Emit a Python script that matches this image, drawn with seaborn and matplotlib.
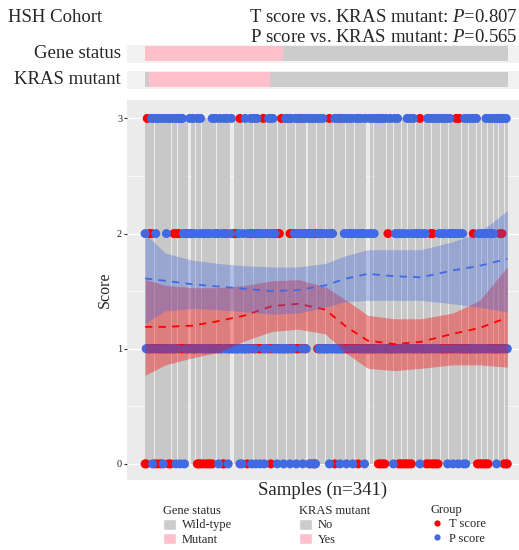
import numpy as np
import pandas as pd
import matplotlib.pyplot as plt
import seaborn as sns
from matplotlib.patches import Patch
from matplotlib.lines import Line2D

# ---- data ----
n_samples = 341

# per-sample scores (samples 1..341), blocks of ten
t_scores_str = """
0031212110 1101101111 1101011211 2121111121 1112111110 0101011010 1010111211
1110012111 1112121113 1111110112 1211121111 1311211101 1211212131 1113112112
2111121312 1122202202 2211121111 1113121101 1111311111 1112111111 0111211111
1111111110 1010101121 1111111101 0101010101 0111121131 1111010120 2010101111
1111112111 1131131111 1111111121 1101010101 0101121111 1112121010 0
"""
p_scores_str = """
2111113031 2313113013 2131311310 3130332012 1231231213 1231212112 1213123120
3121321301 2311111120 1021312113 0231032202 2101213232 3121011111 0131130311
2302323102 3123023230 0321312312 1120112131 1310131230 2312302132 3123120312
1321321313 1313113111 3110321321 2112113213 1231211201 2112131311 3131132132
3213023120 2121021120 3013131131 1312112121 3213213213 0313131313 1
"""
t_scores = [int(c) for c in t_scores_str if c.isdigit()]
p_scores = [int(c) for c in p_scores_str if c.isdigit()]

# samples without a background column
bar_gaps = [10, 26, 31, 42, 43, 44, 48, 54, 68, 81, 82, 83, 84, 93, 103, 115,
            125, 134, 142, 153, 162, 170, 178, 189, 198, 209, 210, 211, 212,
            215, 228, 234, 242, 247, 255, 262, 270, 278, 286, 298, 305, 312,
            317, 322, 328, 333, 338]

# annotation rows as runs
gene_runs = [("Mutant", 130), ("Wild-type", 211)]
kras_runs = [("No", 4), ("Yes", 114), ("No", 223)]

# smoothed trends (loess) read at these samples
knots = [1, 20, 45, 70, 95, 120, 145, 170, 190, 210, 235, 260, 290, 315, 341]
t_fit = [1.19, 1.19, 1.20, 1.24, 1.29, 1.37, 1.39, 1.34, 1.19, 1.07, 1.04, 1.06, 1.13, 1.18, 1.27]
t_low = [0.77, 0.86, 0.92, 0.97, 1.07, 1.15, 1.17, 1.13, 0.96, 0.83, 0.81, 0.83, 0.86, 0.86, 0.84]
t_high = [1.60, 1.55, 1.53, 1.53, 1.55, 1.59, 1.60, 1.54, 1.42, 1.29, 1.26, 1.26, 1.31, 1.42, 1.71]
p_fit = [1.61, 1.59, 1.56, 1.54, 1.52, 1.50, 1.51, 1.55, 1.61, 1.65, 1.63, 1.62, 1.68, 1.72, 1.78]
p_low = [1.22, 1.33, 1.35, 1.34, 1.32, 1.30, 1.31, 1.36, 1.41, 1.42, 1.42, 1.42, 1.39, 1.36, 1.32]
p_high = [2.00, 1.83, 1.77, 1.74, 1.72, 1.71, 1.71, 1.74, 1.81, 1.86, 1.86, 1.86, 1.93, 2.01, 2.20]

# ---- style ----
sns.set_theme(style="darkgrid", rc={"axes.facecolor": "#EBEBEB", "grid.color": "white"})
plt.rcParams["font.family"] = ["Liberation Serif", "DejaVu Serif"]
plt.rcParams["mathtext.fontset"] = "custom"
plt.rcParams["mathtext.rm"] = "Liberation Serif"
plt.rcParams["mathtext.it"] = "Liberation Serif:italic"

W, H = 519, 550
fig = plt.figure(figsize=(W / 100, H / 100), dpi=100)
fig.patch.set_facecolor("white")

grey = "#CCCCCC"
pink = "#FFC0CB"
red = "#FF0000"
blue = "#4169E1"

samples = np.arange(1, n_samples + 1)
xlim = (-16, 352)

# main panel
ax = fig.add_axes([127 / W, 1 - 480 / H, 392 / W, 380 / H])
bar_x = [s for s in samples if s not in bar_gaps]
ax.bar(bar_x, 3, width=1.0, color="#C8C8C8", linewidth=0, zorder=1)

# long format: all T scores first, P scores drawn on top
df = pd.DataFrame({
    "Sample": np.concatenate([samples, samples]),
    "Group": ["T score"] * n_samples + ["P score"] * n_samples,
    "Score": t_scores + p_scores,
})
sns.scatterplot(data=df, x="Sample", y="Score", hue="Group",
                palette={"T score": red, "P score": blue}, s=42,
                linewidth=0, legend=False, ax=ax, zorder=3)

ax.fill_between(knots, t_low, t_high, color=red, alpha=0.37, linewidth=0, zorder=4)
sns.lineplot(x=knots, y=t_fit, color=red, lw=1.3, ax=ax, zorder=5)
ax.lines[-1].set_dashes((4, 3.5))
ax.fill_between(knots, p_low, p_high, color=blue, alpha=0.35, linewidth=0, zorder=6)
sns.lineplot(x=knots, y=p_fit, color=blue, lw=1.3, ax=ax, zorder=7)
ax.lines[-1].set_dashes((4, 3.5))

ax.set_xlim(*xlim)
ax.set_ylim(-0.14, 3.16)
ax.set_xticks([])
ax.set_yticks([0, 1, 2, 3])
ax.set_yticks([0.5, 1.5, 2.5], minor=True)
ax.grid(True, which="major", axis="y", color="white", lw=1.0)
ax.grid(True, which="minor", axis="y", color="white", lw=0.5)
ax.grid(False, axis="x")
ax.tick_params(axis="y", which="major", length=2.5, width=0.8, color="#333333",
               labelsize=7.5, labelcolor="#222222", pad=1, left=True)
ax.tick_params(axis="y", which="minor", length=0)
for sp in ax.spines.values():
    sp.set_visible(False)
ax.set_ylabel("Score", fontsize=11.5, labelpad=3)
ax.set_xlabel("Samples (n=341)", fontsize=13.5, labelpad=1)

# annotation rows
def annot_row(y_top, runs, colors, label):
    a = fig.add_axes([127 / W, 1 - (y_top + 18) / H, 392 / W, 18 / H])
    a.set_facecolor("#F2F2F2")
    cols = []
    for name, n in runs:
        cols += [colors[name]] * n
    a.bar(samples, 0.84, bottom=0.1, width=1.0, color=cols, linewidth=0,
          antialiased=False)
    a.set_xlim(*xlim)
    a.set_ylim(0, 1)
    a.set_xticks([])
    a.set_yticks([])
    a.grid(False)
    for sp in a.spines.values():
        sp.set_visible(False)
    fig.text(121 / W, 1 - (y_top + 9) / H, label, ha="right", va="center",
             fontsize=13.5)

annot_row(45, gene_runs, {"Mutant": pink, "Wild-type": grey}, "Gene status")
annot_row(71, kras_runs, {"Yes": pink, "No": grey}, "KRAS mutant")

# header
fig.text(8 / W, 1 - 18 / H, "HSH Cohort", ha="left", va="center", fontsize=13.5)
fig.text(518 / W, 1 - 18 / H, "T score vs. KRAS mutant: $P$=0.807",
         ha="right", va="center", fontsize=13.5)
fig.text(518 / W, 1 - 38 / H, "P score vs. KRAS mutant: $P$=0.565",
         ha="right", va="center", fontsize=13.5)

# legends
leg_kw = dict(loc="upper left", frameon=False, fontsize=9, title_fontsize=9,
              alignment="left", borderpad=0, handlelength=1.05,
              handleheight=0.95, handletextpad=0.45, labelspacing=0.12)
fig.legend(handles=[Patch(facecolor=grey, label="Wild-type"),
                    Patch(facecolor=pink, label="Mutant")],
           title="Gene status", bbox_to_anchor=(157 / W, 1 - 499 / H), **leg_kw)
fig.legend(handles=[Patch(facecolor=grey, label="No"),
                    Patch(facecolor=pink, label="Yes")],
           title="KRAS mutant", bbox_to_anchor=(293 / W, 1 - 499 / H), **leg_kw)
fig.legend(handles=[Line2D([0], [0], marker="o", ls="none", markersize=4.5,
                           markerfacecolor=red, markeredgecolor="none", label="T score"),
                    Line2D([0], [0], marker="o", ls="none", markersize=4.5,
                           markerfacecolor=blue, markeredgecolor="none", label="P score")],
           title="Group", bbox_to_anchor=(424 / W, 1 - 498 / H), **leg_kw)

fig.savefig("out.png", dpi=100)
